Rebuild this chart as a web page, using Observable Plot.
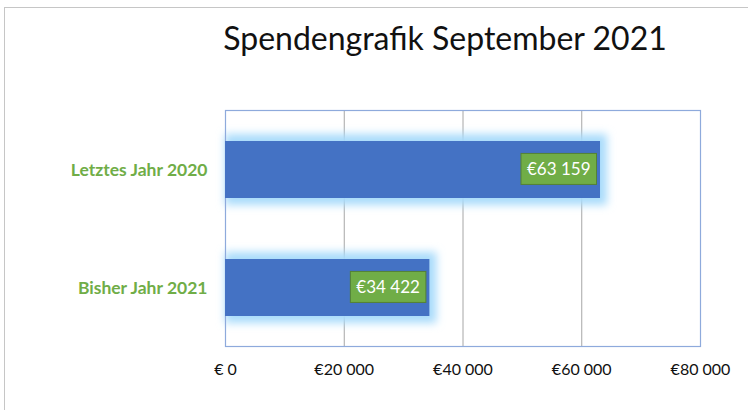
<!DOCTYPE html>
<html><head><meta charset="utf-8">
<script src="https://cdn.jsdelivr.net/npm/d3@7"></script>
<script src="https://cdn.jsdelivr.net/npm/@observablehq/plot@0.6"></script>
<style>
body{margin:0;background:#fff;}
#wrap{position:relative;width:748px;height:410px;overflow:hidden;font-family:Lato,sans-serif;background:#fff;}
#sheet{position:absolute;left:4px;top:7px;right:-4px;bottom:-4px;border-left:1.5px solid #c6c6c6;border-top:1.5px solid #c6c6c6;}
#title{position:absolute;left:0;top:17px;width:890px;text-align:center;font-size:32px;line-height:42px;color:#111;font-family:Lato,sans-serif;}
#chart{position:absolute;left:0;top:0;}
#chart g[aria-label="y-axis tick label"]{fill:#70ad47;font-weight:bold;font-size:17.5px;}
#chart g[aria-label="x-axis tick label"]{fill:#111;font-size:16px;}
</style>
</head><body>
<div id="wrap"><div id="sheet"></div><div id="title"></div><div id="chart"></div></div>
<script>
const titleText = "Spendengrafik September 2021";
const categories = ["Letztes Jahr 2020", "Bisher Jahr 2021"];
const values = [63159, 34422];
const tickValues = [0, 20000, 40000, 60000, 80000];
const tickLabels = ["€ 0", "€20 000", "€40 000", "€60 000", "€80 000"];

const data = categories.map((c, i) => ({category: c, value: values[i]}));
const fmt = d3.formatLocale({decimal: ",", thousands: " ", grouping: [3], currency: ["€", ""]}).format("$,.0f");

document.getElementById("title").textContent = titleText;

const chart = Plot.plot({
  width: 748, height: 410,
  marginLeft: 225, marginRight: 48, marginTop: 110, marginBottom: 64,
  style: {fontFamily: "Lato, sans-serif", fontSize: "15px", background: "transparent", overflow: "visible"},
  x: {domain: [0, 80000], ticks: tickValues, tickFormat: d => tickLabels[tickValues.indexOf(d)], tickSize: 0, tickPadding: 17, label: null},
  y: {domain: categories, paddingInner: 0.52, paddingOuter: 0.26, tickSize: 0, tickPadding: 18, label: null},
  marks: [
    Plot.ruleX(tickValues.slice(1, -1), {stroke: "#a6a6a6", strokeWidth: 1}),
    Plot.barX(data, {x: "value", y: "category", fill: "#a9dbfb", insetTop: -7, insetBottom: -7, insetRight: -7}),
    Plot.frame({stroke: "#8eaadc", strokeWidth: 1.2}),
    Plot.barX(data, {x: "value", y: "category", fill: "#4472c4"}),
    Plot.text(data, {x: "value", y: "category", text: d => fmt(d.value), textAnchor: "end", dx: -10, fill: "white", fontSize: 17})
  ]
});
document.getElementById("chart").appendChild(chart);

// glow filter on the first (halo) bar group
const ns = "http://www.w3.org/2000/svg";
const defs = document.createElementNS(ns, "defs");
defs.innerHTML = '<filter id="glow" x="-20%" y="-50%" width="140%" height="200%"><feGaussianBlur stdDeviation="4.5"/></filter>';
chart.insertBefore(defs, chart.firstChild);
const barGroups = chart.querySelectorAll('g[aria-label="bar"]');
if (barGroups.length) barGroups[0].setAttribute("filter", "url(#glow)");

// green label boxes behind value labels (same local coordinates as each text)
const textGroup = chart.querySelector('g[aria-label="text"]');
if (textGroup) {
  textGroup.querySelectorAll("text").forEach(t => {
    const bb = t.getBBox();
    const r = document.createElementNS(ns, "rect");
    const tr = t.getAttribute("transform");
    if (tr) r.setAttribute("transform", tr);
    r.setAttribute("x", bb.x - 6);
    r.setAttribute("y", bb.y + bb.height / 2 - 15.5);
    r.setAttribute("width", bb.width + 12);
    r.setAttribute("height", 31);
    r.setAttribute("fill", "#70ad47");
    r.setAttribute("stroke", "#548235");
    r.setAttribute("stroke-width", 1);
    textGroup.insertBefore(r, t);
  });
}
</script>
</body></html>
